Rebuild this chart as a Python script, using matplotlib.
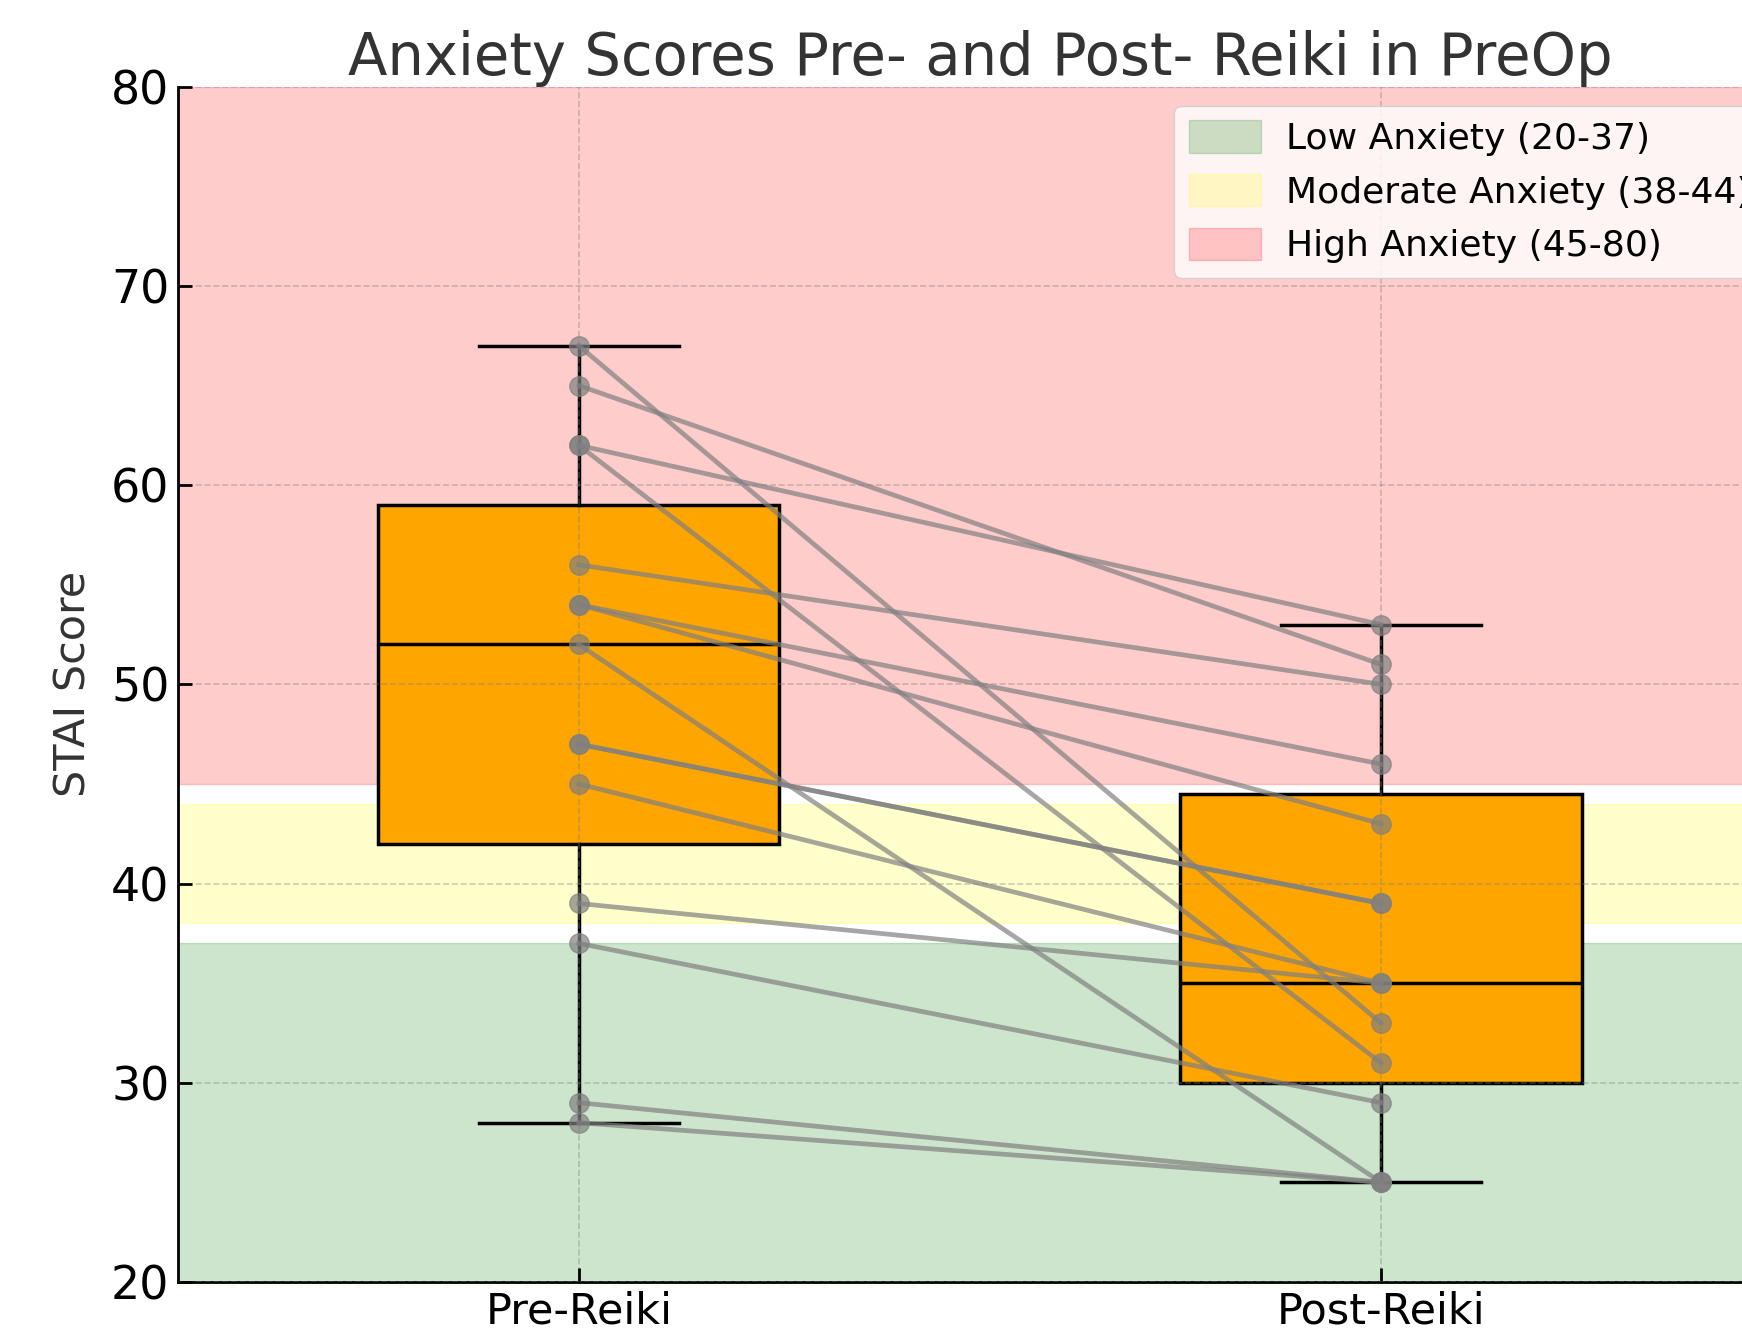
import matplotlib
matplotlib.use("Agg")
import matplotlib.pyplot as plt
import numpy as np

categories = ["Pre-Reiki", "Post-Reiki"]
pre_scores = [67, 65, 62, 62, 56, 54, 54, 52, 47, 47, 45, 39, 37, 29, 28]
post_scores = [33, 51, 53, 31, 50, 46, 43, 25, 39, 39, 35, 35, 29, 25, 25]
bands = [(20, 37, "green", "Low Anxiety (20-37)"),
         (38, 44, "yellow", "Moderate Anxiety (38-44)"),
         (45, 80, "red", "High Anxiety (45-80)")]
y_ticks = [20, 30, 40, 50, 60, 70, 80]

fig = plt.figure(figsize=(17.42, 13.34), dpi=100)
ax = fig.add_axes([0.102, 0.039, 0.921, 0.896])

for lo, hi, col, lab in bands:
    ax.axhspan(lo, hi, color=col, alpha=0.2, label=lab, zorder=0)

bp = ax.boxplot([pre_scores, post_scores], positions=[1, 2], widths=0.5,
                patch_artist=True, showfliers=False, zorder=2)
for b in bp["boxes"]:
    b.set_facecolor("orange")
    b.set_edgecolor("black")
    b.set_linewidth(2.5)
for key in ["whiskers", "caps", "medians"]:
    for ln in bp[key]:
        ln.set_color("black")
        ln.set_linewidth(2.5)

for a, b in zip(pre_scores, post_scores):
    ax.plot([1, 2], [a, b], color="gray", alpha=0.7, linewidth=3.4,
            marker="o", markersize=14, zorder=3)

ax.set_xlim(0.5, 2.5)
ax.set_ylim(20, 80)
ax.set_yticks(y_ticks)
ax.set_xticks([1, 2])
ax.set_xticklabels(categories)
ax.tick_params(axis="y", direction="in", labelsize=33, length=10, width=2, pad=6)
ax.tick_params(axis="x", direction="in", labelsize=31, length=10, width=2, pad=6)
ax.grid(True, linestyle="--", color="gray", alpha=0.4, linewidth=1.2)
ax.set_axisbelow(False)
for gl in ax.get_xgridlines() + ax.get_ygridlines():
    gl.set_zorder(1)
ax.spines["top"].set_visible(False)
ax.spines["right"].set_visible(False)
ax.spines["left"].set_linewidth(2)
ax.spines["bottom"].set_linewidth(2)
ax.set_ylabel("STAI Score", fontsize=31, color="#333333", labelpad=12)
ax.set_title("Anxiety Scores Pre- and Post- Reiki in PreOp", fontsize=41.5,
             color="#333333", pad=4)
ax.legend(loc="upper left", bbox_to_anchor=(0.61, 0.999), fontsize=26,
          framealpha=0.8, handlelength=2.0, handleheight=1.0,
          handletextpad=0.7)

fig.savefig("out.png", dpi=100)
